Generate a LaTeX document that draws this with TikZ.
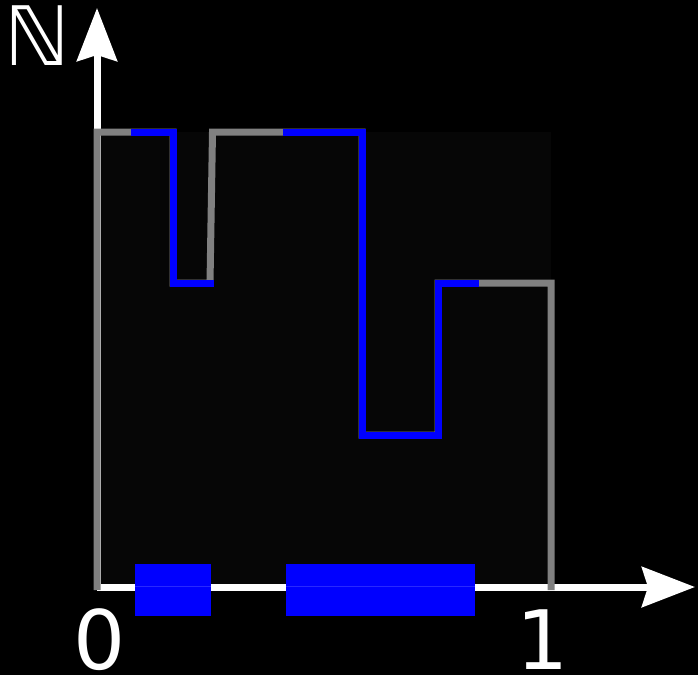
\documentclass[tikz,border=0pt]{standalone}
\usepackage{fontspec}
\setmainfont{DejaVu Sans}
\usetikzlibrary{arrows.meta}
\definecolor{plotgray}{RGB}{128,128,128}
\definecolor{plotblue}{RGB}{0,0,255}
\definecolor{seam}{RGB}{40,40,255}
\definecolor{area}{RGB}{6,6,6}
\begin{document}
\begin{tikzpicture}[x=1pt,y=-1pt,
  axis/.style={white,line width=7pt,-{Stealth[length=53pt,width=40pt,inset=6pt]}},
  grayline/.style={plotgray,line width=7pt},
  blueline/.style={plotblue,line width=7pt},
  bluebar/.style={fill=plotblue,draw=none},
  lbl/.style={text=white,inner sep=0pt,font=\fontsize{82}{82}\selectfont}]
\fill[black] (0,0) rectangle (698,675);
\useasboundingbox (0,0) rectangle (698,675);
\fill[area] (97,132) rectangle (551,587);
\coordinate (O) at (97,587);
\coordinate (ytip) at (97,8);
\coordinate (xtip) at (695,587);
\draw[axis] (O) -- (ytip);
\draw[axis] (O) -- (xtip);
\draw[grayline] (97,590) -- (97,132) -- (173,132) -- (173,283) -- (210,283) -- (212.5,132) -- (362,132) -- (362,435) -- (438,435) -- (438,283) -- (551,283) -- (551,590);
\draw[blueline] (131,132) -- (173,132) -- (173,283) -- (214,283);
\draw[blueline] (283,132) -- (362,132) -- (362,435) -- (438,435) -- (438,283) -- (479,283);
\fill[bluebar] (135,564) rectangle (211,616);
\fill[bluebar] (286,564) rectangle (475,616);
\draw[seam,line width=0.8pt] (135,586.5) -- (211,586.5);
\draw[seam,line width=0.8pt] (286,586.5) -- (475,586.5);
\node[lbl] (zero) at (100,640) {0};
\node[lbl] (one) at (543,640) {1};
\node[lbl] (nat) at (37,36) {ℕ};
\end{tikzpicture}
\end{document}
